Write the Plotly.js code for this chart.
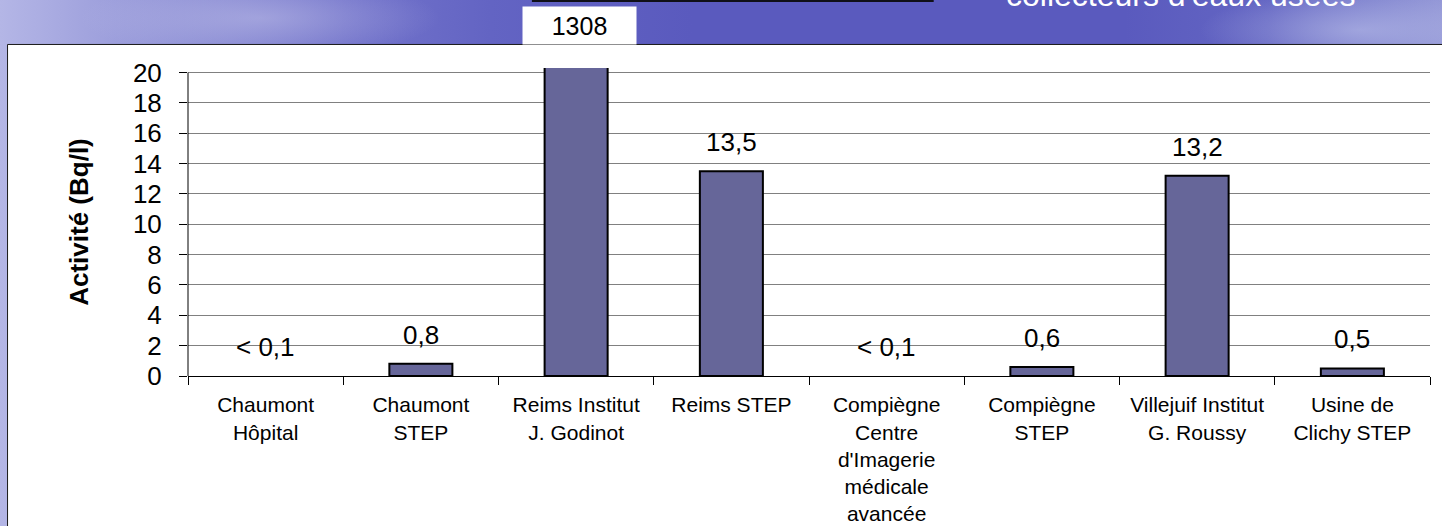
<!DOCTYPE html>
<html>
<head>
<meta charset="utf-8">
<script src="https://cdn.plot.ly/plotly-3.0.1.min.js"></script>
<style>
  html, body { margin: 0; padding: 0; }
  body {
    width: 1442px; height: 526px; overflow: hidden;
    background:
      radial-gradient(ellipse 180px 40px at 260px 18px, rgba(200,200,235,0.45), rgba(200,200,235,0) 100%),
      radial-gradient(ellipse 160px 40px at 1360px 30px, rgba(190,195,235,0.55), rgba(190,195,235,0) 100%),
      linear-gradient(to right, #b4b6e6 0%, #a2a4de 6%, #8c8ed5 14%, #7374cb 24%, #6364c3 34%, #5a5abe 48%, #5a5abe 78%, #6466c3 88%, #8286d0 96%, #9296d6 100%);
  }
  #chart { width: 1442px; height: 526px; }
</style>
</head>
<body>
<div id="chart"></div>
<script>
// ---- data ----
const categories = [
  "Chaumont<br>Hôpital",
  "Chaumont<br>STEP",
  "Reims Institut<br>J. Godinot",
  "Reims STEP",
  "Compiègne<br>Centre<br>d'Imagerie<br>médicale<br>avancée",
  "Compiègne<br>STEP",
  "Villejuif Institut<br>G. Roussy",
  "Usine de<br>Clichy STEP"
];
const values = [0, 0.8, 1308, 13.5, 0, 0.6, 13.2, 0.5];
const valueLabels = ["< 0,1", "0,8", "1308", "13,5", "< 0,1", "0,6", "13,2", "0,5"];
const yTitle = "Activité (Bq/l)";
const slideTitleFragment = "collecteurs d'eaux usées";
const yMax = 20.3;

// ---- chart ----
const FONT = "Liberation Sans, Arial, sans-serif";

const trace = {
  type: "bar",
  x: categories,
  y: values,
  marker: {
    color: "#666699",
    line: { color: "#000000", width: values.map(v => (v > 0 ? 2 : 0)) }
  },
  hoverinfo: "skip"
};

const annotations = [];
values.forEach((v, i) => {
  if (v <= yMax) {
    annotations.push({
      x: categories[i], y: v, xref: "x", yref: "y",
      text: valueLabels[i], showarrow: false,
      yanchor: "bottom", yshift: 12,
      font: { family: FONT, size: 26, color: "#000000" }
    });
  } else {
    annotations.push({
      x: categories[i], xref: "x", xshift: 3,
      y: 1.1365, yref: "paper", yanchor: "middle",
      text: valueLabels[i], showarrow: false,
      bgcolor: "#ffffff", width: 111, height: 35,
      font: { family: FONT, size: 25, color: "#000000" }
    });
  }
});
annotations.push({
  x: 0.7993, xref: "paper", y: 1.172, yref: "paper",
  xanchor: "center", yanchor: "bottom",
  text: slideTitleFragment, showarrow: false,
  font: { family: FONT, size: 32, color: "#ffffff" }
});

const layout = {
  width: 1442, height: 526,
  margin: { l: 188, r: 12, t: 68, b: 150 },
  paper_bgcolor: "rgba(0,0,0,0)",
  plot_bgcolor: "#ffffff",
  showlegend: false,
  bargap: 0.594,
  font: { family: FONT, color: "#000000" },
  xaxis: {
    type: "category",
    range: [-0.5, 7.5],
    showgrid: false,
    showline: true, linecolor: "#000000", linewidth: 1,
    ticks: "outside", tickson: "boundaries", ticklen: 8, tickcolor: "#000000",
    ticklabelstandoff: 10,
    tickfont: { family: FONT, size: 21, color: "#000000" },
    tickangle: 0,
    fixedrange: true
  },
  yaxis: {
    range: [0, yMax],
    tick0: 0, dtick: 2,
    showgrid: true, gridcolor: "#808080", gridwidth: 1,
    zeroline: false,
    showline: false,
    ticks: "outside", ticklen: 8, tickcolor: "#000000",
    ticklabelstandoff: 12,
    tickfont: { family: FONT, size: 26, color: "#000000" },
    title: { text: "<b>" + yTitle + "</b>", standoff: 36, font: { family: FONT, size: 26, color: "#000000" } },
    automargin: false,
    fixedrange: true
  },
  shapes: [
    // white chart frame on the slide
    { type: "rect", xref: "paper", yref: "paper", layer: "below",
      x0: -0.1453, x1: 1.03, y0: -0.7, y1: 1.0764,
      fillcolor: "#ffffff", line: { color: "#1a1a1a", width: 1 } },
    // slide title box bottom edge
    { type: "rect", xref: "paper", yref: "paper", layer: "above",
      x0: 0.2769, x1: 0.6004, y0: 1.2145, y1: 1.23,
      fillcolor: "#101018", line: { width: 0 } },
    // y axis line (stops at 20)
    { type: "line", xref: "paper", yref: "y", layer: "above",
      x0: 0, x1: 0, y0: 0, y1: 20,
      line: { color: "#000000", width: 1 } }
  ],
  annotations: annotations
};

Plotly.newPlot("chart", [trace], layout, { displayModeBar: false, staticPlot: true });
</script>
</body>
</html>
